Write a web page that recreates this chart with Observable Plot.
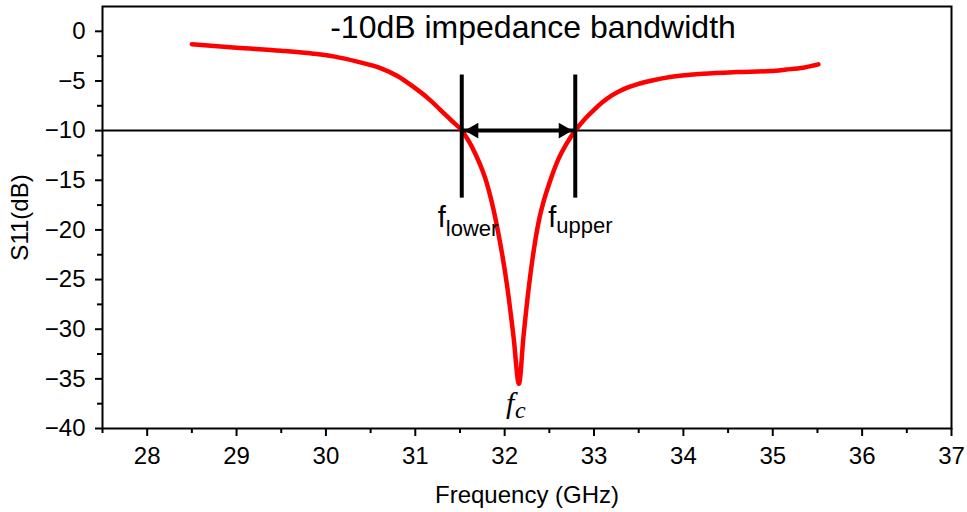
<!DOCTYPE html>
<html><head><meta charset="utf-8">
<script src="https://cdn.jsdelivr.net/npm/d3@7"></script>
<script src="https://cdn.jsdelivr.net/npm/@observablehq/plot@0.6"></script>
<style>body{margin:0;background:#fff;color:#000}</style>
</head><body><div id="chart"></div>
<script>
const freq = [28.5, 29.0, 29.5, 29.86, 30.1, 30.35, 30.61, 30.8, 30.98, 31.15, 31.28, 31.4, 31.52, 31.67, 31.8, 31.9, 32.03, 32.1, 32.16, 32.21, 32.27, 32.32, 32.38, 32.44, 32.5, 32.6, 32.7, 32.79, 32.9, 33.0, 33.1, 33.2, 33.3, 33.48, 33.65, 33.85, 34.22, 34.6, 34.97, 35.15, 35.34, 35.51];
const s11 = [-1.3, -1.65, -1.95, -2.25, -2.55, -3.05, -3.7, -4.5, -5.6, -6.8, -7.9, -8.95, -10, -12.3, -15.3, -19, -25.8, -30.8, -35.5, -30.8, -25.8, -22.4, -19.2, -17.0, -15.3, -12.9, -11.2, -10, -8.8, -7.9, -7.1, -6.45, -5.95, -5.35, -4.95, -4.6, -4.27, -4.1, -4.0, -3.85, -3.66, -3.33];
const xTicks = [28, 29, 30, 31, 32, 33, 34, 35, 36, 37];
const xMinorTicks = [27.5, 28.5, 29.5, 30.5, 31.5, 32.5, 33.5, 34.5, 35.5, 36.5];
const yTicks = [0, -5, -10, -15, -20, -25, -30, -35, -40];
const yMinorTicks = [-2.5, -7.5, -12.5, -17.5, -22.5, -27.5, -32.5, -37.5];
const threshold = [-10];
const bandEdges = [31.52, 32.79];
const markerSpan = [-4.4, -16.8];
const centerFreq = 32.16;
const minS11 = -35.5;
const title = "-10dB impedance bandwidth";
const xLabel = "Frequency (GHz)";
const yLabel = "S11(dB)";

const curve = freq.map((f, i) => ({f, s: s11[i]}));
const sans = "'Liberation Sans', Arial, sans-serif";
const serif = "'Liberation Serif', 'Times New Roman', serif";

const chart = Plot.plot({
  width: 967, height: 512,
  marginLeft: 102, marginRight: 16, marginTop: 6, marginBottom: 84,
  style: {fontFamily: sans, background: "#fff", color: "#000"},
  x: {domain: [27.5, 37]},
  y: {domain: [-40, 2.5]},
  marks: [
    Plot.ruleY(threshold, {stroke: "#000", strokeWidth: 2}),
    Plot.line(curve, {x: "f", y: "s", stroke: "#ff0000", strokeWidth: 4.5, curve: "monotone-x", strokeLinecap: "round"}),
    Plot.ruleX(bandEdges, {y1: markerSpan[0], y2: markerSpan[1], stroke: "#000", strokeWidth: 4}),
    Plot.ruleY(threshold, {x1: bandEdges[0], x2: bandEdges[1], stroke: "#000", strokeWidth: 4}),
    Plot.dot([bandEdges[0]], {x: d => d, y: threshold[0], symbol: "triangle2", r: 7.5, rotate: -90, dx: 12, fill: "#000", stroke: "none"}),
    Plot.dot([bandEdges[1]], {x: d => d, y: threshold[0], symbol: "triangle2", r: 7.5, rotate: 90, dx: -12, fill: "#000", stroke: "none"}),
    Plot.frame({stroke: "#000", strokeWidth: 2}),
    Plot.axisX(xTicks, {tickSize: 8, tickPadding: 10, fontSize: 24, strokeWidth: 2, label: xLabel, labelAnchor: "center", labelArrow: "none", labelOffset: 74}),
    Plot.axisX(xMinorTicks, {tickSize: 5, strokeWidth: 2, tickFormat: () => "", label: null}),
    Plot.axisY(yTicks, {tickSize: 7, tickPadding: 10, fontSize: 24, strokeWidth: 2, label: yLabel, labelAnchor: "center", labelArrow: "none", labelOffset: 92}),
    Plot.axisY(yMinorTicks, {tickSize: 5, strokeWidth: 2, tickFormat: () => "", label: null}),
    Plot.text([title], {frameAnchor: "top", dx: 6, dy: 31, lineAnchor: "bottom", textAnchor: "middle", fontSize: 32, fill: "#000"}),
    Plot.text([bandEdges[0]], {x: d => d, y: threshold[0], text: () => "f", dx: -24, dy: 96, textAnchor: "start", lineAnchor: "bottom", fontSize: 29, fill: "#000"}),
    Plot.text([bandEdges[0]], {x: d => d, y: threshold[0], text: () => "lower", dx: -16, dy: 105, textAnchor: "start", lineAnchor: "bottom", fontSize: 22, fill: "#000"}),
    Plot.text([bandEdges[1]], {x: d => d, y: threshold[0], text: () => "f", dx: -27, dy: 96, textAnchor: "start", lineAnchor: "bottom", fontSize: 29, fill: "#000"}),
    Plot.text([bandEdges[1]], {x: d => d, y: threshold[0], text: () => "upper", dx: -19, dy: 102, textAnchor: "start", lineAnchor: "bottom", fontSize: 22, fill: "#000"}),
    Plot.text([centerFreq], {x: d => d, y: minS11, text: () => "f", dx: -13, dy: 29, textAnchor: "start", lineAnchor: "bottom", fontSize: 30, fontStyle: "italic", fontFamily: serif, fill: "#000"}),
    Plot.text([centerFreq], {x: d => d, y: minS11, text: () => "c", dx: -4, dy: 34, textAnchor: "start", lineAnchor: "bottom", fontSize: 24, fontStyle: "italic", fontFamily: serif, fill: "#000"})
  ]
});
document.getElementById("chart").append(chart);
</script>
</body></html>
